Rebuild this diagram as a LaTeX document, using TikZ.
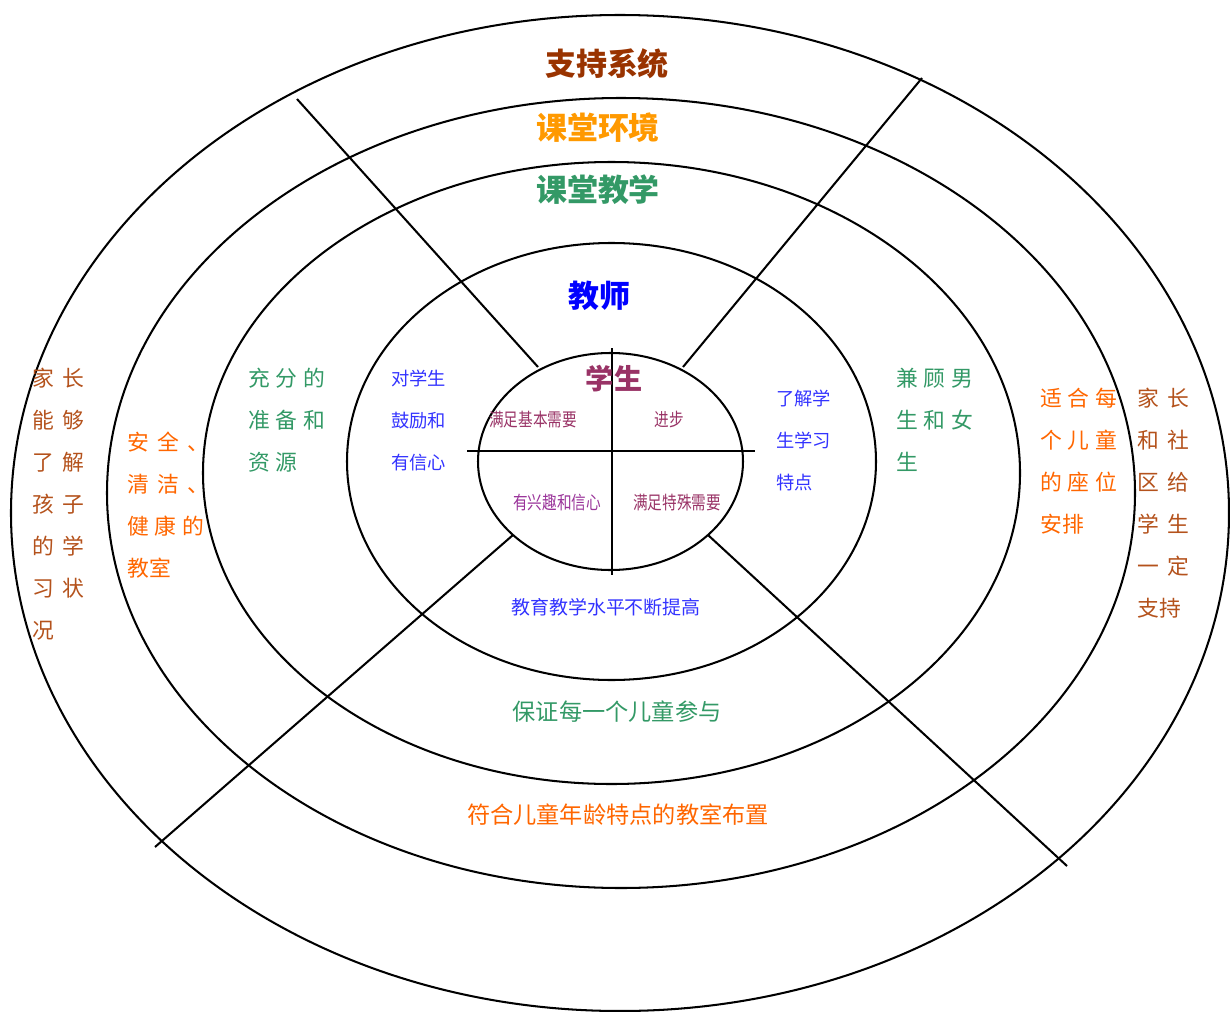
\documentclass[tikz,border=0pt]{standalone}
\usepackage{fontspec}
\usepackage{graphicx}
\setmainfont{Noto Sans CJK SC}
\usetikzlibrary{positioning}
\definecolor{supportbrown}{HTML}{993300}
\definecolor{sidebrown}{HTML}{B4521C}
\definecolor{envorange}{HTML}{FF9900}
\definecolor{sideorange}{HTML}{FF6600}
\definecolor{teachgreen}{HTML}{339966}
\definecolor{teacherblue}{HTML}{0000FF}
\definecolor{sideblue}{HTML}{3333FF}
\definecolor{pupilred}{HTML}{993366}
\definecolor{pupilpurple}{HTML}{993399}
\newcommand{\gp}{\hspace{4pt}}
\newcommand{\gw}{\hspace{6pt}}
\newcommand{\narrow}[1]{\scalebox{0.8}[1]{#1}}

\begin{document}
\begin{tikzpicture}[x=0.025cm, y=-0.025cm,
    ring/.style={line width=1.45pt},
    title/.style={font=\fontsize{22}{26}\selectfont\bfseries},
    column/.style={font=\fontsize{15.5}{29.8}\selectfont, align=left, anchor=north west, inner sep=0pt},
    smallcol/.style={font=\fontsize{13}{29.8}\selectfont, align=left, anchor=north west, inner sep=0pt},
    quarter/.style={font=\fontsize{13}{16}\selectfont, inner sep=0pt},
    band/.style={font=\fontsize{16.5}{20}\selectfont, inner sep=0pt}]
\useasboundingbox (0,0) rectangle (1230,1012);

% rings
\draw[ring] (620,513) ellipse [x radius=609, y radius=498];
\draw[ring] (621,493) ellipse [x radius=514, y radius=395];
\draw[ring] (611.5,473) ellipse [x radius=408.5, y radius=311];
\draw[ring] (611.5,461.5) ellipse [x radius=264.5, y radius=218.5];
\draw[ring] (610.5,461.5) ellipse [x radius=132.5, y radius=108.5];

% cross and spokes
\draw[ring] (612,348) -- (612,575);
\draw[ring] (467,451) -- (755,451);
\draw[ring] (297,99) -- (538,367);
\draw[ring] (922,78) -- (683,367);
\draw[ring] (513,535) -- (155,847);
\draw[ring] (708,535) -- (1067,866);

% titles
\node[title, text=supportbrown] (support) at (607,64) {支持系统};
\node[title, text=envorange] (environment) at (598,128) {课堂环境};
\node[title, text=teachgreen] (teaching) at (598,190) {课堂教学};
\node[title, text=teacherblue] (teacher) at (599,296) {教师};
\node[font=\fontsize{20}{24}\selectfont\bfseries, text=pupilred] (pupil) at (614,379) {学生};

% student quarters
\node[quarter, text=pupilred] (basicneeds) at (533,420) {\narrow{满足基本需要}};
\node[quarter, text=pupilred] (progress) at (669,420) {\narrow{进步}};
\node[quarter, text=pupilpurple] (interest) at (557,503) {\narrow{有兴趣和信心}};
\node[quarter, text=pupilred] (specialneeds) at (677,503) {\narrow{满足特殊需要}};

% bands at the bottom
\node[font=\fontsize{13.5}{16}\selectfont, inner sep=0pt, text=sideblue] (teachlevel) at (606,607) {教育教学水平不断提高};
\node[band, text=teachgreen] (everychild) at (617,712) {保证每一个儿童参与};
\node[band, text=sideorange] (layout) at (618,815) {符合儿童年龄特点的教室布置};

% left columns
\node[column, text=sidebrown] (parentsleft) at (32,368)
    {家\gw 长\\能\gw 够\\了\gw 解\\孩\gw 子\\的\gw 学\\习\gw 状\\况};
\node[column, text=sideorange] (safeclass) at (127,432)
    {安\gw 全\gw 、\\清\gw 洁\gw 、\\健\gp 康\gp 的\\教室};
\node[column, text=teachgreen] (preparation) at (248,368)
    {充\gp 分\gp 的\\准\gp 备\gp 和\\资\gp 源};
\node[smallcol, text=sideblue] (encourage) at (391,370)
    {对学生\\鼓励和\\有信心};

% right columns
\node[smallcol, text=sideblue] (knowpupils) at (776,390)
    {了解学\\生学习\\特点};
\node[column, text=teachgreen] (boysgirls) at (896,368)
    {兼\gp 顾\gp 男\\生\gp 和\gp 女\\生};
\node[column, text=sideorange] (seating) at (1040,388)
    {适\gp 合\gp 每\\个\gp 儿\gp 童\\的\gp 座\gp 位\\安排};
\node[column, text=sidebrown] (community) at (1137,388)
    {家\gw 长\\和\gw 社\\区\gw 给\\学\gw 生\\一\gw 定\\支持};
\end{tikzpicture}
\end{document}
